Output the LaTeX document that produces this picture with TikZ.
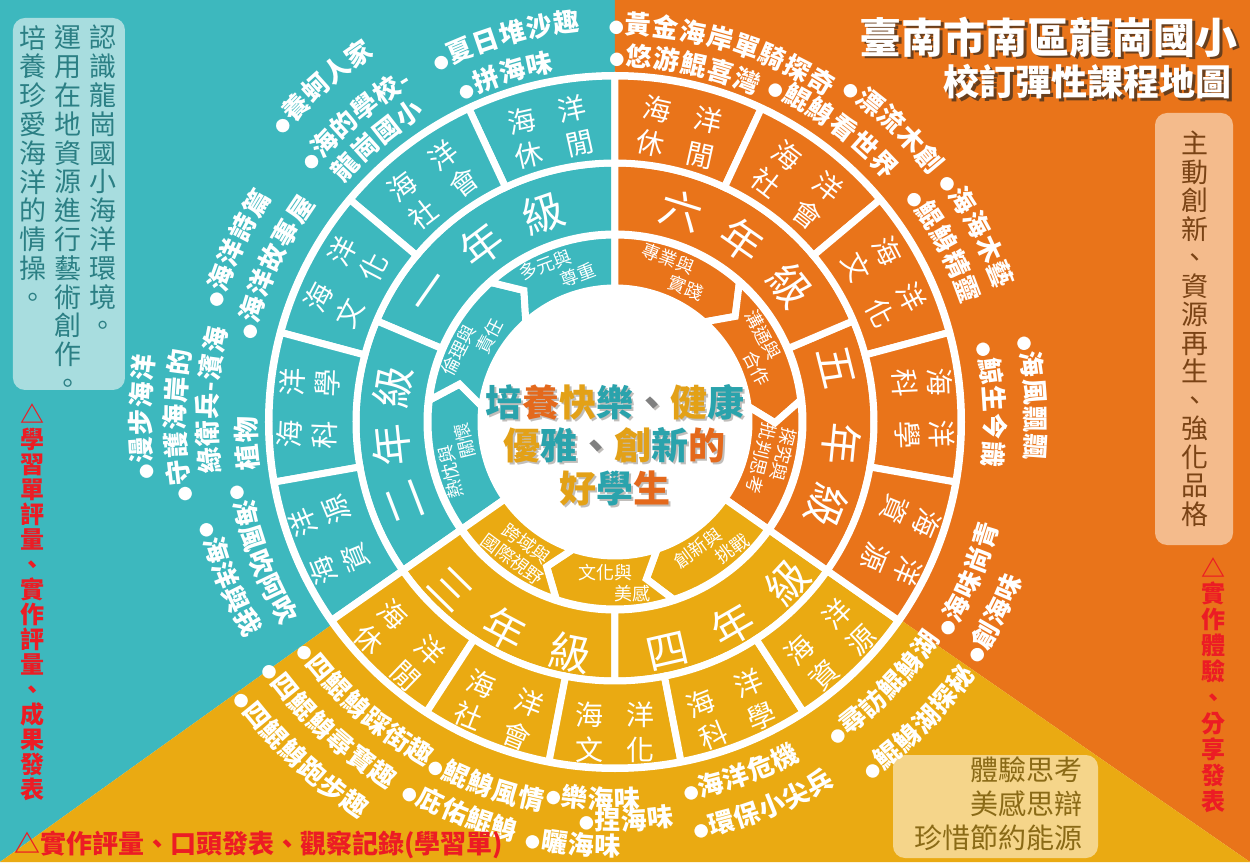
\documentclass[tikz,border=0pt]{standalone}
\usepackage{fontspec}
\setmainfont{Noto Sans CJK TC}
\usetikzlibrary{decorations.text}

\definecolor{seablue}{HTML}{3DB8BE}
\definecolor{sunset}{HTML}{E9741A}
\definecolor{sand}{HTML}{EAAA12}
\definecolor{shade}{HTML}{33291F}
\definecolor{mintbox}{HTML}{A8DDDF}
\definecolor{mintink}{HTML}{2B7F84}
\definecolor{peachbox}{HTML}{F4BB8C}
\definecolor{peachink}{HTML}{7A4315}
\definecolor{creambox}{HTML}{F5D58A}
\definecolor{creamink}{HTML}{8A6A16}
\definecolor{alert}{HTML}{EC1C24}
\definecolor{mtteal}{HTML}{2AA3AC}
\definecolor{mtorange}{HTML}{E4691C}
\definecolor{mtgold}{HTML}{E3A117}

\newcommand\lblfont{\fontsize{26}{26}\selectfont\bfseries\color{white}\kern1pt}
\newcommand\dotfont{\fontsize{15}{15}\selectfont\color{white}}

\makeatletter
\newcommand\vtext[1]{\def\vt@out{}\def\vt@sep{}%
  \@tfor\vt@c:=#1\do{\edef\vt@out{\unexpanded\expandafter{\vt@out}%
    \unexpanded\expandafter{\vt@sep}\unexpanded\expandafter{\vt@c}}%
    \def\vt@sep{\\}}%
  \vt@out}
\makeatother

\newcommand\ringpart[5]{%
  \filldraw[fill=#1,draw=white,line width=7pt]
    (#2:#5) arc[start angle=#2,end angle=#3,radius=#5]
    -- (#3:#4) arc[start angle=#3,end angle=#2,radius=#4] -- cycle;}

\newcommand\chevron[5]{%
  \filldraw[fill=#1,draw=white,line width=7pt]
    (#2:187) arc[start angle=#2,end angle=#3,radius=187]
    -- ({#3-#5}:160) -- (#3:134) arc[start angle=#3,end angle=#2,radius=134]
    -- ({#2-#4}:160) -- cycle;}

\newcommand\shadnode[4]{%
  \node[#2,text=shade,text opacity=.7] (#1-s) at ([shift={(2.2,-2.2)}]#3) {#4};
  \node[#2] (#1) at (#3) {#4};}

% bulleted label / plain line along an arc
\newcommand\arclabel[4]{%
  \path[decorate,decoration={text along path,text={|\dotfont|●|\lblfont|#4}}]
    (#1:#3) arc[start angle=#1,end angle=#2,radius=#3];}
\newcommand\arcline[4]{%
  \path[decorate,decoration={text along path,text={|\lblfont|#4}}]
    (#1:#3) arc[start angle=#1,end angle=#2,radius=#3];}

\newcommand\mc[2]{\textcolor{#1}{#2}}
\newcommand\mottotext{\mc{mtteal}{培}\mc{mtorange}{養}\mc{mtgold}{快}\mc{mtteal}{樂}\mc{gray}{、}\mc{mtgold}{健}\mc{mtteal}{康}\\
  \mc{mtgold}{優}\mc{mtteal}{雅}\mc{gray}{、}\mc{mtgold}{創}\mc{mtteal}{新}\mc{mtorange}{的}\\
  \mc{mtgold}{好}\mc{mtteal}{學}\mc{mtorange}{生}}

\begin{document}
\begin{tikzpicture}[x=1pt,y=1pt,
    every node/.style={inner sep=0pt},
    grade/.style={text=white,font=\fontsize{42}{42}\selectfont},
    topic/.style={text=white,align=center,font=\fontsize{28}{35}\selectfont},
    skill/.style={text=white,align=left,font=\fontsize{18}{21}\selectfont},
    vcol/.style={align=center,anchor=north},
    motto/.style={align=center,font=\fontsize{37}{43}\selectfont\bfseries},
    ]
\useasboundingbox (-615,-440) rectangle (635,422);

\fill[seablue] (-615,422) -- (0,422) -- (0,0) -- (-615,-440) -- cycle;
\fill[sunset] (0,422) -- (635,422) -- (635,-440) -- (0,0) -- cycle;
\fill[sand] (-615,-440) -- (0,0) -- (635,-440) -- cycle;

\fill[mintbox,rounded corners=12pt] (-602,404) rectangle (-490,32);
\fill[peachbox,rounded corners=12pt] (540,309) rectangle (618,-123);
\fill[creambox,rounded corners=12pt] (278,-333) rectangle (483,-436);

\fill[white] (0,0) circle[radius=350];

% grade ring
\foreach \a/\b/\col in {90/157/seablue,157/215/seablue,215/270/sand,270/325/sand,-35/23/sunset,23/90/sunset}
  \ringpart{\col}{\a}{\b}{188}{259};

% topic ring
\foreach \a/\b/\col/\p/\q/\r/\rot [count=\i] in {
    90/115/seablue/休/閒/297/12.5, 115/140/seablue/社/會/299/37.5, 140/165/seablue/文/化/303/62.5,
    165/190/seablue/科/學/307/87.5, 190/215/seablue/資/源/309/112.5,
    215/237/sand/休/閒/310/-44, 237/259/sand/社/會/310/-22, 259/281/sand/文/化/310/0,
    281/303/sand/科/學/310/22, 303/325/sand/資/源/310/44,
    65/90/sunset/休/閒/297/-12.5, 40/65/sunset/社/會/299/-37.5, 15/40/sunset/文/化/303/-62.5,
    -10/15/sunset/科/學/309/-87.5, -35/-10/sunset/資/源/310/-112.5}
{
  \ringpart{\col}{\a}{\b}{259}{346}
  \pgfmathsetmacro\m{(\a+\b)/2}
  \node[topic,rotate=\rot] (t\i) at (\m:\r) {海\hspace{.85em}洋\\\p\hspace{.85em}\q};
}

\foreach \ch/\ang/\r/\rot [count=\i] in {
    一/145/221/55, 年/127/221/37, 級/109/221/19,
    二/201/225/111, 年/186/225/96, 級/171/225/81,
    三/225.5/235/-44.5, 年/242/235/-28, 級/259/235/-11,
    四/283/235/13, 年/300/235/30, 級/317/235/47,
    五/14/228/-76, 年/-5.6/228/-95.6, 級/-21.6/228/-111.6,
    六/72.5/222/-17.5, 年/55/222/-35, 級/38/222/-52}
  \node[grade,rotate=\rot] (g\i) at (\ang:\r) {\ch};

% inner ring
\foreach \col/\a/\b/\n/\t in {seablue/215/173.3/0/7, seablue/173.3/131.7/7/7, seablue/131.7/90/7/0,
    sunset/90/48.3/0/7, sunset/48.3/6.7/7/7, sunset/6.7/-35/7/0,
    sand/325/288.3/0/7, sand/288.3/251.7/7/7, sand/251.7/215/7/0}
  \chevron{\col}{\a}{\b}{\n}{\t};

\foreach \ang/\rot/\one/\two [count=\i] in {
    110.8/20.8/多元與/\hspace{2em}尊重, 152.5/62.5/倫理與/\hspace{2em}責任,
    194/104/熱忱與/\hspace{2em}關懷, 69/-21/專業與/\hspace{2em}實踐,
    27.5/-62.5/溝通與/\hspace{2em}合作, -14/-104/探究與/批判思考,
    306.7/36.7/創新與/\hspace{2em}挑戰, 270/0/文化與/\hspace{2em}美感,
    233.3/-36.7/\hspace{.6em}跨域與/國際視野}
  \node[skill,rotate=\rot] (k\i) at (\ang:161) {\one\\\two};

\begin{scope}
  \renewcommand\mc[2]{#2}
  \node[motto,text=shade,text opacity=.3] (motto-s) at (2,-25) {\mottotext};
\end{scope}
\node[motto] (motto) at (0,-23) {\mottotext};

% outer labels, upper half
\arclabel{116.9}{85}{393}{夏日堆沙趣}
\arclabel{115.3}{90}{356}{拼海味}
\arclabel{139.2}{115}{439}{養蚵人家}
\arclabel{140.5}{110}{393}{海的學校-}
\arcline{138.8}{115}{361}{龍崗國小}
\arclabel{164}{140}{410}{海洋詩篇}
\arclabel{167.2}{140}{370}{海洋故事屋}
\arclabel{187}{165}{465}{漫步海洋}
\arclabel{190.5}{165}{430}{守護海岸的}
\arcline{187.5}{165}{398}{綠衛兵-濱海}
\arcline{187.8}{175}{359}{植物}
\arclabel{90.9}{50}{388}{黃金海岸單騎探奇}
\arclabel{90.9}{60}{356}{悠游鯤喜灣}
\arclabel{55.6}{30}{400}{漂流木創}
\arclabel{65.3}{30}{363}{鯤鯓看世界}
\arclabel{36.6}{10}{403}{海海木藝}
\arclabel{37.8}{10}{367}{鯤鯓精靈}
\arclabel{11.9}{-15}{411}{海風飄飄}
\arclabel{12.2}{-15}{370}{鯨生今識}
% outer labels, lower half
\arclabel{-32.8}{-5}{398}{海味尚青}
\arclabel{-33.7}{-10}{437}{創海味}
\arclabel{215.5}{245}{393}{四鯤鯓踩街趣}
\arclabel{214.9}{245}{432}{四鯤鯓尋寶趣}
\arclabel{215.8}{245}{472}{四鯤鯓跑步趣}
\arclabel{241.6}{265}{396}{鯤鯓風情}
\arclabel{259.6}{285}{387}{樂海味}
\arclabel{240.2}{265}{431}{庇佑鯤鯓}
\arclabel{264.9}{285}{408}{捏海味}
\arclabel{258}{280}{434}{曬海味}
\arclabel{280.5}{310}{385}{海洋危機}
\arclabel{281}{315}{424}{環保小尖兵}
\arclabel{304.3}{335}{391}{尋訪鯤鯓湖}
\arclabel{305.5}{335}{440}{鯤鯓湖探秘}
\arclabel{189.5}{220}{390}{海風吹阿吹}
\arclabel{193.9}{220}{428}{海洋與我}

% title
\shadnode{title}{anchor=east,text=white,font=\fontsize{42}{42}\selectfont\bfseries}{623,385}{臺南市南區龍崗國小}
\shadnode{subtitle}{anchor=east,text=white,font=\fontsize{36}{36}\selectfont\bfseries}{617,340}{校訂彈性課程地圖}

% side notes
\node[vcol,text=mintink,font=\fontsize{27}{28.8}\selectfont] (aim1) at (-512,397) {\vtext{認識龍崗國小海洋環境。}};
\node[vcol,text=mintink,font=\fontsize{27}{28.8}\selectfont] (aim2) at (-547,397) {\vtext{運用在地資源進行藝術創作。}};
\node[vcol,text=mintink,font=\fontsize{27}{28.8}\selectfont] (aim3) at (-582,397) {\vtext{培養珍愛海洋的情操。}};
\node[vcol,text=peachink,font=\fontsize{27}{28.5}\selectfont] (aim4) at (580,291) {\vtext{主動創新、資源再生、強化品格}};
\node[anchor=east,align=right,text=creamink,font=\fontsize{28}{34}\selectfont] (aim5) at (468,-382) {體驗思考\\美感思辯\\珍惜節約能源};

\node[vcol,text=alert,font=\fontsize{24}{25}\selectfont\bfseries] (check1) at (-582,19) {\vtext{△學習單評量、實作評量、成果發表}};
\node[vcol,text=alert,font=\fontsize{24}{25.9}\selectfont\bfseries] (check2) at (598,-135) {\vtext{△實作體驗、分享發表}};
\node[anchor=west,text=alert,font=\fontsize{26}{26}\selectfont\bfseries] (check3) at (-601,-423) {△實作評量、口頭發表、觀察記錄(學習單)};
\end{tikzpicture}
\end{document}
